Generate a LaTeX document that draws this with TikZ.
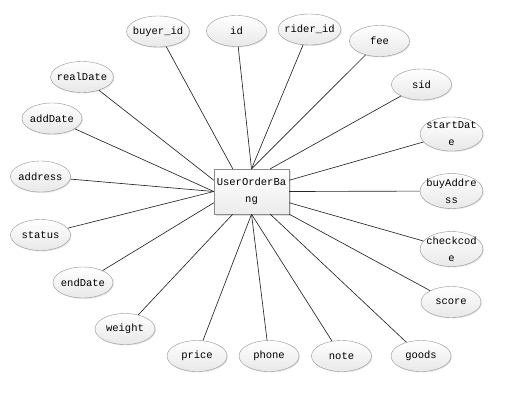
\documentclass[tikz,border=0pt]{standalone}
\usepackage{fontspec}
\setmonofont{Liberation Mono}
\usepackage{tikz}
\usetikzlibrary{shapes.geometric, shadows}

\begin{document}
\begin{tikzpicture}[
        x=1pt, y=-1pt,
        entity/.style={rectangle, draw=gray!90, top color=white, bottom color=gray!15, minimum width=75pt, minimum height=45pt, inner sep=0pt, align=center, drop shadow={opacity=0.25, shadow xshift=1.5pt, shadow yshift=-1.5pt}},
        attr/.style={ellipse, draw=gray!85, top color=white, bottom color=gray!18, minimum width=60pt, minimum height=31pt, inner xsep=-3pt, inner ysep=0pt, align=center, drop shadow={opacity=0.2, shadow xshift=1pt, shadow yshift=-1pt}},
        link/.style={draw=black!85, line width=0.65pt},
        every node/.style={font=\ttfamily\fontsize{10.5}{17}\selectfont}
        ]
        \useasboundingbox (0,0) rectangle (505,402);

        % Entity
        \node[entity] (order) at (251.5,191.5) {UserOrderBa\\ng};

        % Attributes
        \node[attr] (buyer_id) at (158,31.5) {buyer\_id};
        \node[attr] (id) at (236.5,31) {id};
        \node[attr] (rider_id) at (309.5,29.5) {rider\_id};
        \node[attr] (fee) at (379.5,41) {fee};
        \node[attr] (sid) at (421.5,84.5) {sid};
        \node[attr] (startDate) at (451.5,134) {startDat\\e};
        \node[attr] (buyAddress) at (451.5,191) {buyAddre\\ss};
        \node[attr] (checkcode) at (451.5,249) {checkcod\\e};
        \node[attr] (score) at (451,302) {score};
        \node[attr] (goods) at (421,356) {goods};
        \node[attr] (note) at (341.5,356) {note};
        \node[attr] (phone) at (269,356) {phone};
        \node[attr] (price) at (197,356) {price};
        \node[attr] (weight) at (125,329) {weight};
        \node[attr] (endDate) at (83,282.5) {endDate};
        \node[attr] (status) at (40.5,235) {status};
        \node[attr] (address) at (40.5,176.5) {address};
        \node[attr] (addDate) at (52,118.5) {addDate};
        \node[attr] (realDate) at (82,77) {realDate};

        % Links
        \draw[link] (buyer_id) -- ([xshift=-18.75pt]order.north);
        \draw[link] (id) -- (order.north);
        \draw[link] (rider_id) -- (order.north);
        \draw[link] (fee) -- (order.north);
        \draw[link] (sid) -- ([xshift=18.75pt]order.north);
        \draw[link] (startDate) -- ([yshift=11.25pt]order.east);
        \draw[link] (buyAddress) -- (order.east);
        \draw[link] (checkcode) -- ([yshift=-11.25pt]order.east);
        \draw[link] (score) -- (order.south east);
        \draw[link] (goods) -- ([xshift=18.75pt]order.south);
        \draw[link] (note) -- (order.south);
        \draw[link] (phone) -- (order.south);
        \draw[link] (price) -- (order.south);
        \draw[link] (weight) -- ([xshift=-18.75pt]order.south);
        \draw[link] (endDate) -- ([yshift=-11.25pt]order.west);
        \draw[link] (status) -- (order.west);
        \draw[link] (address) -- (order.west);
        \draw[link] (addDate) -- (order.west);
        \draw[link] (realDate) -- ([yshift=11.25pt]order.west);

    \end{tikzpicture}
\end{document}
